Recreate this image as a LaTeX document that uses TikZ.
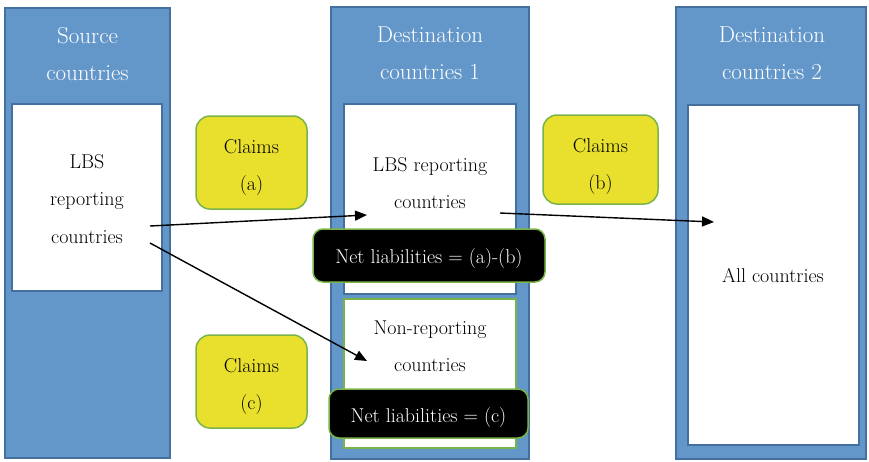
\documentclass[tikz,border=0pt]{standalone}
\usepackage{fontspec}
\usetikzlibrary{arrows.meta}
\definecolor{colblue}{RGB}{99,150,201}
\definecolor{colblueedge}{RGB}{68,112,160}
\definecolor{claimyellow}{RGB}{233,224,46}
\definecolor{edgegreen}{RGB}{122,180,72}
\begin{document}
\begin{tikzpicture}[x=1pt,y=-1pt,
  box/.style={anchor=north west, inner sep=0pt, outer sep=0pt},
  column/.style={box, fill=colblue, draw=colblueedge, line width=1.5pt},
  whitebox/.style={box, fill=white, draw=colblueedge, line width=1.5pt},
  claimbox/.style={box, fill=claimyellow, draw=edgegreen, line width=1.5pt, rounded corners=14pt},
  netbox/.style={box, fill=black, draw=edgegreen, line width=1.5pt, rounded corners=10pt},
  headtxt/.style={text=white, align=center, font=\fontsize{23}{37}\selectfont},
  bodytxt/.style={text=black, align=center, font=\fontsize{20}{37.5}\selectfont},
  nettxt/.style={text=white, align=center, font=\fontsize{20}{22}\selectfont},
  flow/.style={line width=1.4pt, -{Triangle[length=12pt,width=10pt]}}
]
\useasboundingbox (0,0) rectangle (869,461);

% columns
\node[column, minimum width=165pt, minimum height=450pt] (src) at (5,8) {};
\node[whitebox, minimum width=150pt, minimum height=187pt] (srcin) at (12,104) {};
\node[column, minimum width=198pt, minimum height=452pt] (d1) at (331,7) {};
\node[whitebox, minimum width=172pt, minimum height=190pt] (d1in) at (344,104) {};
\node[whitebox, draw=edgegreen, minimum width=172pt, minimum height=149pt] (d1nr) at (344,299) {};
\node[column, minimum width=190pt, minimum height=452pt] (d2) at (676,7) {};
\node[whitebox, minimum width=171pt, minimum height=340pt] (d2in) at (688,105) {};

% headers
\node[headtxt] (srch) at (87.5,54) {Source\\countries};
\node[headtxt] (d1h) at (430,53) {Destination\\countries 1};
\node[headtxt] (d2h) at (772,53) {Destination\\countries 2};

% body texts
\node[bodytxt] (lbs) at (87,199) {LBS\\reporting\\countries};
\node[bodytxt] (lbs1) at (430,183) {LBS reporting\\countries};
\node[bodytxt] (nonrep) at (430,346) {Non-reporting\\countries};
\node[bodytxt] (allc) at (773,276) {All countries};

% claims
\node[claimbox, minimum width=111pt, minimum height=93pt] (ca) at (196,116) {};
\node[bodytxt] at ([yshift=-5pt]ca.center) {Claims\\(a)};
\node[claimbox, minimum width=115pt, minimum height=89pt] (cb) at (543,115) {};
\node[bodytxt] at ([yshift=-7pt]cb.center) {Claims\\(b)};
\node[claimbox, minimum width=111pt, minimum height=93pt] (cc) at (196,335) {};
\node[bodytxt] at ([yshift=-5pt]cc.center) {Claims\\(c)};

% arrows
\coordinate (a1s) at (150,226);
\coordinate (a1e) at (367,215);
\coordinate (a2s) at (150,243);
\coordinate (a2e) at (367,361);
\coordinate (a3s) at (500,213);
\coordinate (a3e) at (714,222);
\draw[flow] (a1s) -- (a1e);
\draw[flow] (a2s) -- (a2e);
\draw[flow] (a3s) -- (a3e);

% net liabilities
\node[netbox, minimum width=232pt, minimum height=53pt] (n1) at (313,229) {};
\node[nettxt] at ([yshift=-3pt]n1.center) {Net liabilities = (a)-(b)};
\node[netbox, minimum width=199pt, minimum height=49pt] (n2) at (329,389) {};
\node[nettxt] at ([yshift=-4pt]n2.center) {Net liabilities = (c)};
\end{tikzpicture}
\end{document}
